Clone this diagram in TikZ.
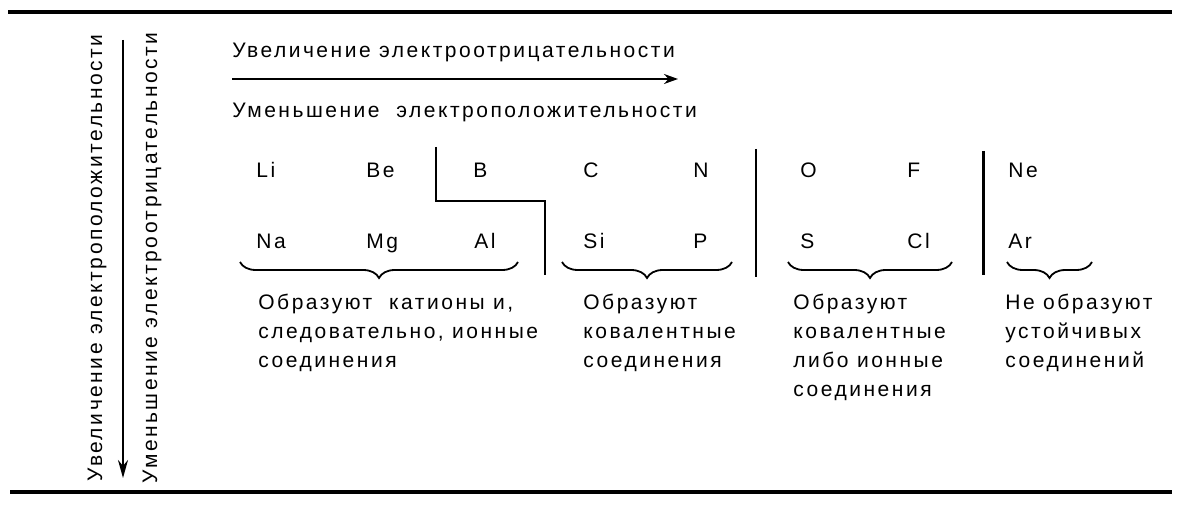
\documentclass[tikz,border=0pt]{standalone}
\usepackage{fontspec}
\setmainfont{Liberation Sans}[LetterSpace=12]
\usetikzlibrary{positioning,decorations.pathreplacing,arrows.meta}
\tikzset{
    elemnode/.style={anchor=base west, inner sep=0pt, font=\fontsize{10.5}{15}\selectfont},
    trendnode/.style={anchor=base west, inner sep=0pt, font=\fontsize{10.5}{15}\selectfont},
    notenode/.style={anchor=north west, align=left, inner sep=0pt, font=\fontsize{10.5}{14.5}\selectfont},
    trendarrow/.style={draw, line width=1pt, -{Stealth[length=9pt, width=5pt]}},
    groupbrace/.style={draw, decorate, decoration={brace, mirror, amplitude=8pt}, line width=0.9pt},
    sepline/.style={draw, line width=1pt},
    rulebar/.style={draw, line width=1.6pt}
}

\begin{document}
\begin{tikzpicture}[x=0.5pt, y=-0.5pt]
    \useasboundingbox (0,0) rectangle (1198,513);
    % Rules
    \draw[rulebar] (8,12) -- (1172,12);
    \draw[rulebar] (10,492) -- (1172,492);
    % Vertical trends
    \node[trendnode, rotate=90, anchor=base] (vpos) at (102,258) {Увеличение электроположительности};
    \node[trendnode, rotate=90, anchor=base] (vneg) at (157,258) {Уменьшение электроотрицательности};
    \coordinate (vtop) at (123,40);
    \coordinate (vbot) at (123,478);
    \draw[trendarrow] (vtop) -- (vbot);
    % Horizontal trends
    \node[trendnode] (hneg) at (232,58) {Увеличение электроотрицательности};
    \coordinate (hleft) at (232,79);
    \coordinate (hright) at (678,79);
    \draw[trendarrow, -{Stealth[length=7pt, width=5pt]}] (hleft) -- (hright);
    \node[trendnode] (hpos) at (232,118) {Уменьшение\ \ электроположительности};
    % Elements
    \foreach \sym/\x in {Li/256, Be/366, B/473, C/583, N/693, O/800, F/907, Ne/1008}
        \node[elemnode] (\sym) at (\x,178) {\sym};
    \foreach \sym/\x in {Na/256, Mg/366, Al/474, Si/583, P/693, S/800, Cl/907, Ar/1008}
        \node[elemnode] (\sym) at (\x,249) {\sym};
    % Separators
    \draw[sepline] (436,147) |- (545,201) -- (545,275);
    \draw[sepline] (756,149) -- (756,277);
    \draw[sepline, line width=1.5pt] (983,151) -- (983,275);
    % Braces
    \draw[groupbrace] (240,262) -- (518,262);
    \draw[groupbrace] (562,262) -- (732,262);
    \draw[groupbrace] (788,262) -- (952,262);
    \draw[groupbrace] (1007,262) -- (1092,262);
    % Notes
    \node[notenode] (ionic) at (258,294) {Образуют\ \ катионы и,\\следовательно, ионные\\соединения};
    \node[notenode] (covalent) at (583,294) {Образуют\\ковалентные\\соединения};
    \node[notenode] (mixed) at (793,294) {Образуют\\ковалентные\\либо ионные\\соединения};
    \node[notenode] (inert) at (1005,294) {Не образуют\\устойчивых\\соединений};
\end{tikzpicture}
\end{document}
